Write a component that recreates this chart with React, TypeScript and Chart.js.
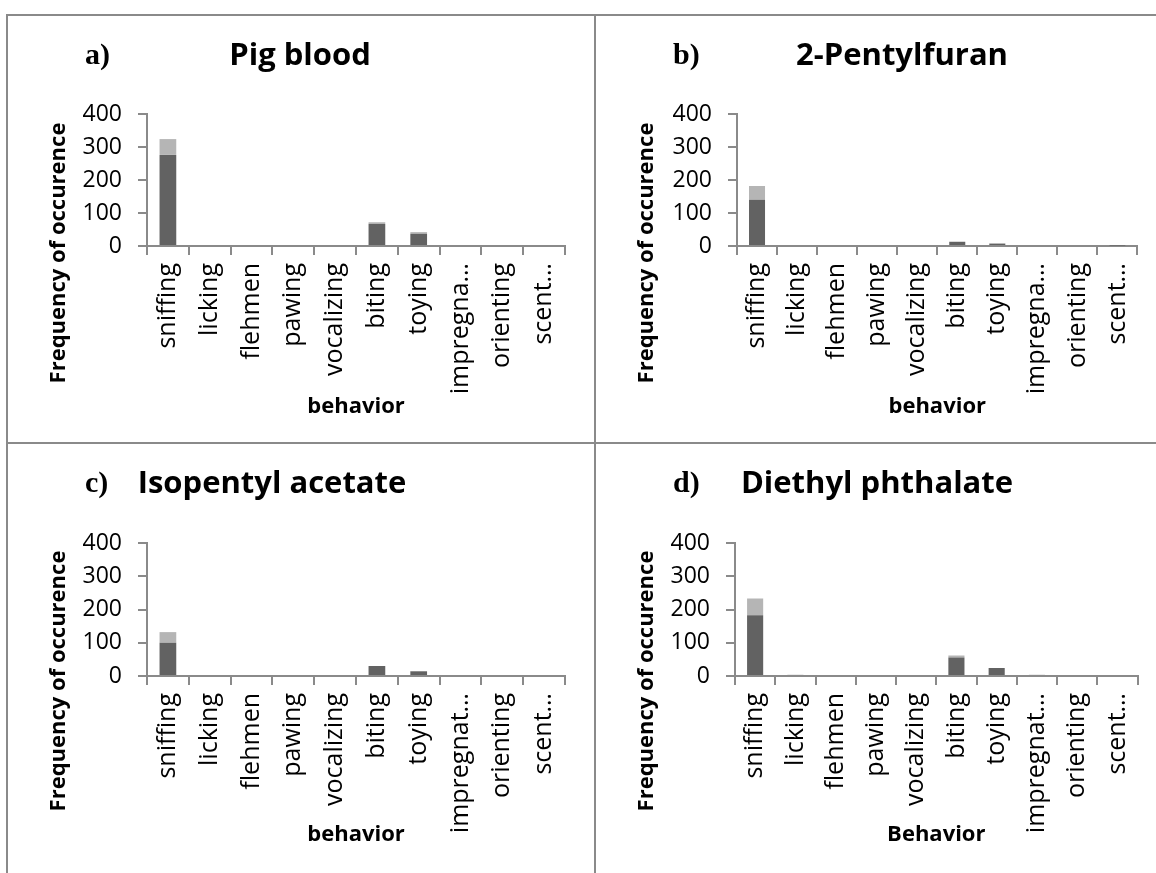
import React, { useEffect, useRef } from "react";
import { Chart, registerables } from "chart.js";

Chart.register(...registerables);

// ---- data ----
const categoriesAB = ["sniffing", "licking", "flehmen", "pawing", "vocalizing", "biting", "toying", "impregna…", "orienting", "scent…"];
const categoriesCD = ["sniffing", "licking", "flehmen", "pawing", "vocalizing", "biting", "toying", "impregnat…", "orienting", "scent…"];

const pigBloodDark = [276, 0, 0, 0, 0, 67, 37, 0, 0, 0];
const pigBloodLight = [48, 0, 0, 0, 0, 5, 5, 0, 0, 0];

const pentylfuranDark = [140, 0, 0, 0, 0, 12, 7, 0, 0, 1];
const pentylfuranLight = [42, 0, 0, 0, 0, 2, 1, 0, 0, 1];

const isopentylDark = [100, 0, 0, 0, 0, 30, 14, 0, 0, 0];
const isopentylLight = [32, 0, 0, 0, 0, 0, 1, 0, 0, 0];

const diethylDark = [183, 0, 0, 0, 0, 56, 24, 0, 0, 0];
const diethylLight = [50, 4, 0, 0, 0, 6, 0, 4, 0, 0];

const yTicks = [0, 100, 200, 300, 400];

const GRAY = "#8a8a8a";
const DARK = "#626262";
const LIGHT = "#b5b5b5";
const FONT = "'Open Sans', sans-serif";

const decorations = {
  id: "decorations",
  afterDraw(chart: any, _args: any, opts: any) {
    const ctx = chart.ctx;
    const ca = chart.chartArea;
    ctx.save();
    ctx.fillStyle = "#000";
    ctx.textBaseline = "middle";
    ctx.textAlign = "center";
    ctx.font = `bold 31px ${FONT}`;
    ctx.fillText(opts.title, opts.titleX, opts.titleY);
    ctx.textAlign = "left";
    ctx.font = "bold 30px 'Liberation Serif', serif";
    ctx.fillText(opts.letter, opts.letterX, opts.titleY);
    ctx.textAlign = "center";
    ctx.font = `bold 22px ${FONT}`;
    ctx.fillText(opts.xTitle, (ca.left + ca.right) / 2, opts.xTitleY);
    ctx.translate(opts.yTitleX, opts.yTitleY);
    ctx.rotate(-Math.PI / 2);
    ctx.fillText(opts.yTitle, 0, 0);
    ctx.restore();
  },
};

type PanelProps = {
  left: number;
  top: number;
  width: number;
  height: number;
  letter: string;
  title: string;
  titleX: number;
  categories: string[];
  dark: number[];
  light: number[];
  xTitle: string;
  area: { l: number; r: number; t: number; b: number };
};

function Panel(p: PanelProps) {
  const ref = useRef<HTMLCanvasElement>(null);
  useEffect(() => {
    if (!ref.current) return;
    const chart = new Chart(ref.current, {
      type: "bar",
      data: {
        labels: p.categories,
        datasets: [
          { data: p.dark, backgroundColor: DARK, borderWidth: 0, barPercentage: 0.4, categoryPercentage: 1 },
          { data: p.light, backgroundColor: LIGHT, borderWidth: 0, barPercentage: 0.4, categoryPercentage: 1 },
        ],
      },
      options: {
        animation: false,
        responsive: false,
        maintainAspectRatio: false,
        layout: { padding: { top: p.area.t, right: p.width - p.area.r, left: 0, bottom: 0 } },
        plugins: {
          legend: { display: false },
          tooltip: { enabled: false },
          decorations: {
            title: p.title,
            titleX: p.titleX,
            titleY: 40,
            letter: p.letter,
            letterX: 77,
            xTitle: p.xTitle,
            xTitleY: 391,
            yTitle: "Frequency of occurence",
            yTitleX: 51,
            yTitleY: 237,
          },
        } as any,
        scales: {
          x: {
            stacked: true,
            offset: true,
            grid: { display: true, offset: true, drawOnChartArea: false, drawTicks: true, tickLength: 9, color: GRAY, lineWidth: 2 },
            border: { display: true, color: GRAY, width: 2 },
            ticks: {
              autoSkip: false,
              maxRotation: 90,
              minRotation: 90,
              padding: 8,
              color: "#000",
              font: { family: FONT, size: 25 },
            },
            afterFit: (s: any) => {
              s.height = p.height - p.area.b;
            },
          },
          y: {
            stacked: true,
            min: 0,
            max: 400,
            afterBuildTicks: (s: any) => {
              s.ticks = yTicks.map((v) => ({ value: v }));
            },
            ticks: { padding: 16, color: "#000", font: { family: FONT, size: 23 } },
            grid: { drawOnChartArea: false, drawTicks: true, tickLength: 9, color: GRAY, lineWidth: 2 },
            border: { display: true, color: GRAY, width: 2 },
            afterFit: (s: any) => {
              s.width = p.area.l;
            },
          },
        },
      },
      plugins: [decorations],
    });
    return () => chart.destroy();
  }, []);
  return (
    <canvas
      ref={ref}
      width={p.width}
      height={p.height}
      style={{ position: "absolute", left: p.left, top: p.top, width: p.width, height: p.height }}
    />
  );
}

export default function App() {
  const line = (l: number, t: number, w: number, h: number) => (
    <div style={{ position: "absolute", left: l, top: t, width: w, height: h, background: GRAY }} />
  );
  return (
    <div style={{ position: "absolute", left: 0, top: 0, width: 1156, height: 873, background: "#fff", overflow: "hidden" }}>
      <Panel left={8} top={16} width={586} height={426} letter="a)" title="Pig blood" titleX={292}
        categories={categoriesAB} dark={pigBloodDark} light={pigBloodLight} xTitle="behavior"
        area={{ l: 139, r: 557, t: 98, b: 230 }} />
      <Panel left={596} top={16} width={560} height={426} letter="b)" title="2-Pentylfuran" titleX={306}
        categories={categoriesAB} dark={pentylfuranDark} light={pentylfuranLight} xTitle="behavior"
        area={{ l: 141, r: 549, t: 98, b: 230 }} />
      <Panel left={8} top={444} width={586} height={429} letter="c)" title="Isopentyl acetate" titleX={264}
        categories={categoriesCD} dark={isopentylDark} light={isopentylLight} xTitle="behavior"
        area={{ l: 139, r: 557, t: 99, b: 232 }} />
      <Panel left={596} top={444} width={560} height={429} letter="d)" title="Diethyl phthalate" titleX={281}
        categories={categoriesCD} dark={diethylDark} light={diethylLight} xTitle="Behavior"
        area={{ l: 139, r: 549, t: 99, b: 232 }} />
      {line(6, 14, 1150, 2)}
      {line(6, 14, 2, 859)}
      {line(594, 14, 2, 859)}
      {line(6, 442, 1150, 2)}
    </div>
  );
}
